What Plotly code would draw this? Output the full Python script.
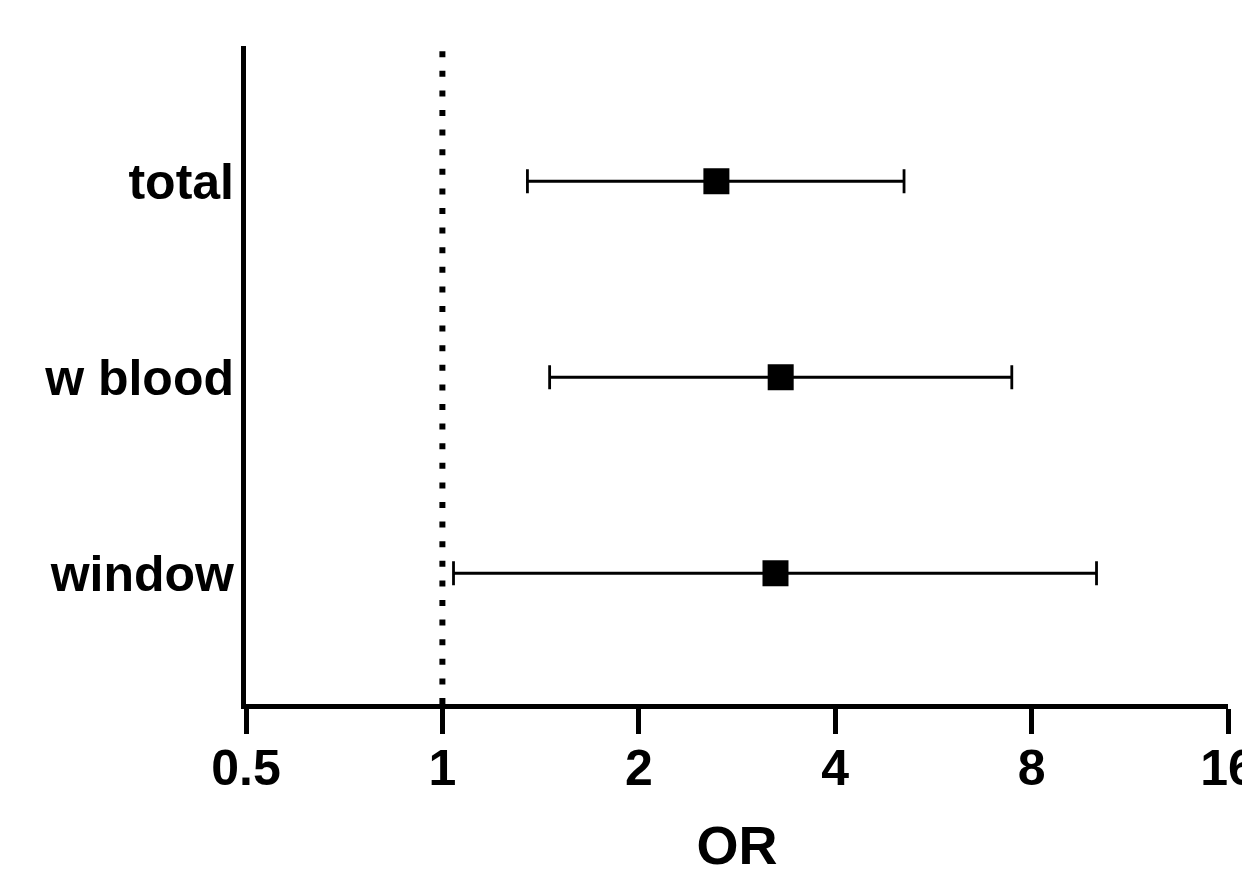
import plotly.graph_objects as go

# Data
categories = ["total", "w blood", "window"]
cat_pos = [3, 2, 1]
or_est = [2.63, 3.30, 3.24]
ci_low = [1.35, 1.46, 1.04]
ci_high = [5.10, 7.46, 10.06]
x_tickvals = [0.5, 1, 2, 4, 8, 16]
x_ticktext = ["0.5", "1", "2", "4", "8", "16"]
ref_value = 1

FONT = "Liberation Sans, Arial, sans-serif"

err_plus = [h - e for h, e in zip(ci_high, or_est)]
err_minus = [e - l for e, l in zip(or_est, ci_low)]

fig = go.Figure()
fig.add_trace(go.Scatter(
    x=or_est, y=cat_pos, mode="markers",
    marker=dict(symbol="square", size=26, color="black", line=dict(width=0)),
    error_x=dict(type="data", symmetric=False, array=err_plus, arrayminus=err_minus,
                 color="black", thickness=2.8, width=12),
    showlegend=False, hoverinfo="skip",
))

fig.add_shape(type="line", xref="x", yref="paper", x0=ref_value, x1=ref_value, y0=0, y1=1,
              line=dict(color="black", width=6, dash="6px,13.6px"), layer="below")

fig.update_layout(
    width=1250, height=872,
    margin=dict(l=238, r=30, t=38, b=176, autoexpand=False),
    plot_bgcolor="white", paper_bgcolor="white",
    font=dict(family=FONT, color="black", size=50, weight="bold"),
    xaxis=dict(
        type="log", range=[-0.30103, 1.20412],
        tickvals=x_tickvals, ticktext=x_ticktext,
        showgrid=False, zeroline=False, automargin=False,
        showline=True, linewidth=5, linecolor="black",
        ticks="outside", ticklen=25, tickwidth=5, tickcolor="black",
        ticklabeloverflow="allow", ticklabelstandoff=-9,
        tickfont=dict(family=FONT, size=50, weight="bold"),
        title=dict(text="OR", font=dict(family=FONT, size=54, weight="bold"), standoff=33),
    ),
    yaxis=dict(
        range=[0.333, 3.69],
        tickvals=cat_pos, ticktext=categories,
        showgrid=False, zeroline=False, automargin=False,
        showline=True, linewidth=5, linecolor="black",
        ticks="", ticklabelstandoff=-3,
        tickfont=dict(family=FONT, size=50, weight="bold"),
    ),
)

fig.write_html("out.html")
